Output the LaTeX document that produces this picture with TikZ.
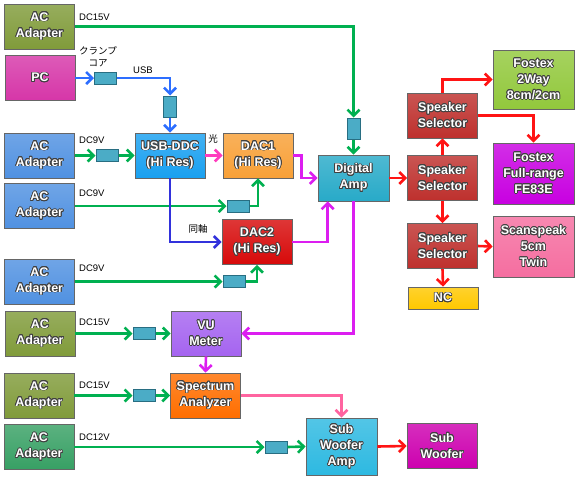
\documentclass[tikz,border=0pt]{standalone}
\usepackage{fontspec}
\setmainfont{Liberation Sans}
\newfontfamily\jpfont{Noto Sans CJK JP}
\usepackage[copies]{contour}
\usetikzlibrary{arrows.meta,positioning,calc}
\usepackage{xcolor}

\definecolor{acolive}{RGB}{128,155,58}
\definecolor{acblue}{RGB}{80,145,225}
\definecolor{acsea}{RGB}{55,160,100}
\definecolor{pcmag}{RGB}{214,54,168}
\definecolor{ddcblue}{RGB}{25,160,240}
\definecolor{dacorange}{RGB}{248,160,55}
\definecolor{dacred}{RGB}{215,10,10}
\definecolor{ampteal}{RGB}{40,170,200}
\definecolor{selred}{RGB}{190,48,45}
\definecolor{fosgreen}{RGB}{146,200,60}
\definecolor{fospurple}{RGB}{200,0,225}
\definecolor{scanpink}{RGB}{245,110,160}
\definecolor{ncyellow}{RGB}{255,200,0}
\definecolor{vupurple}{RGB}{165,100,240}
\definecolor{specorange}{RGB}{255,110,0}
\definecolor{swacyan}{RGB}{45,185,225}
\definecolor{swmag}{RGB}{205,0,175}
\definecolor{corefill}{RGB}{75,172,198}
\definecolor{coreedge}{RGB}{40,110,130}
\definecolor{wgreen}{RGB}{0,176,80}
\definecolor{wblue}{RGB}{45,110,255}
\definecolor{windigo}{RGB}{50,50,220}
\definecolor{wmag}{RGB}{220,30,240}
\definecolor{wpink}{RGB}{255,60,190}
\definecolor{wrose}{RGB}{255,100,160}
\definecolor{wred}{RGB}{255,20,20}

\contourlength{0.75pt}
\newcommand{\wt}[1]{\contour{black!75}{#1}}

\begin{document}
\begin{tikzpicture}[
    x=1pt, y=-1pt,
    blk/.style={draw=black!60, line width=0.7pt, minimum width=70pt, minimum height=45pt,
      inner sep=1pt, align=center, text=white,
      font=\fontsize{12.5}{16}\selectfont\bfseries},
    fillc/.style={top color=#1!82!white, bottom color=#1},
    core/.style={draw=coreedge, fill=corefill, line width=1pt,
      minimum width=22pt, minimum height=12pt, inner sep=0pt},
    vcore/.style={core, minimum width=13pt, minimum height=21pt},
    lbl/.style={anchor=west, inner sep=0pt, font=\fontsize{9.5}{11}\selectfont},
    jp/.style={inner sep=0pt, align=center, font=\jpfont\fontsize{9.5}{12}\selectfont},
    wire/.style={line width=2.6pt, -{Straight Barb[length=6pt,width=12pt]}},
    pwr/.style={wire, wgreen},
    sig/.style={wire, #1}
  ]
    \useasboundingbox (0,0) rectangle (580,482);
    % power adapters
    \node[blk, fillc=acolive] (ac1) at (39.5,26.5) {\wt{AC}\\\wt{Adapter}};
    \node[blk, fillc=pcmag] (pc) at (40,78) {\wt{PC}};
    \node[blk, fillc=acblue] (ac2) at (39.5,155.5) {\wt{AC}\\\wt{Adapter}};
    \node[blk, fillc=acblue] (ac3) at (39.5,206) {\wt{AC}\\\wt{Adapter}};
    \node[blk, fillc=acblue] (ac4) at (39.5,281.5) {\wt{AC}\\\wt{Adapter}};
    \node[blk, fillc=acolive] (ac5) at (40,333.5) {\wt{AC}\\\wt{Adapter}};
    \node[blk, fillc=acolive] (ac6) at (39,395.5) {\wt{AC}\\\wt{Adapter}};
    \node[blk, fillc=acsea] (ac7) at (39,447) {\wt{AC}\\\wt{Adapter}};
    % source chain
    \node[blk, fillc=ddcblue] (ddc) at (170,155.5) {\wt{USB-DDC}\\\wt{(Hi Res)}};
    \node[blk, fillc=dacorange] (dac1) at (258,155.5) {\wt{DAC1}\\\wt{(Hi Res)}};
    \node[blk, fillc=dacred] (dac2) at (257,242) {\wt{DAC2}\\\wt{(Hi Res)}};
    \node[blk, fillc=ampteal, minimum width=71pt, minimum height=46pt] (amp) at (353.5,178) {\wt{Digital}\\\wt{Amp}};
    % speakers
    \node[blk, fillc=selred] (ss1) at (442.5,115.5) {\wt{Speaker}\\\wt{Selector}};
    \node[blk, fillc=selred] (ss2) at (442.5,178) {\wt{Speaker}\\\wt{Selector}};
    \node[blk, fillc=selred] (ss3) at (442.5,246) {\wt{Speaker}\\\wt{Selector}};
    \node[blk, fillc=ncyellow, minimum height=22pt] (nc) at (443,298) {\wt{NC}};
    \node[blk, fillc=fosgreen, minimum width=81pt, minimum height=59pt] (fos2) at (533.5,79.5) {\wt{Fostex}\\\wt{2Way}\\\wt{8cm/2cm}};
    \node[blk, fillc=fospurple, minimum width=81pt, minimum height=61pt] (fosfr) at (533.5,173.5) {\wt{Fostex}\\\wt{Full-range}\\\wt{FE83E}};
    \node[blk, fillc=scanpink, minimum width=81pt, minimum height=61pt] (scan) at (533.5,246.5) {\wt{Scanspeak}\\\wt{5cm}\\\wt{Twin}};
    % meters and sub
    \node[blk, fillc=vupurple] (vu) at (206,333.5) {\wt{VU}\\\wt{Meter}};
    \node[blk, fillc=specorange] (spec) at (205.5,395.5) {\wt{Spectrum}\\\wt{Analyzer}};
    \node[blk, fillc=swacyan, minimum width=71pt, minimum height=57pt] (swa) at (341.5,446.5) {\wt{Sub}\\\wt{Woofer}\\\wt{Amp}};
    \node[blk, fillc=swmag] (sw) at (442,446) {\wt{Sub}\\\wt{Woofer}};
    % clamp cores
    \node[core] (cpc) at (105.5,78) {};
    \node[vcore] (cusb) at (170,106.5) {};
    \node[core] (cddc) at (107,155.5) {};
    \node[core] (cdac1) at (238,206) {};
    \node[core] (cdac2) at (234,281.5) {};
    \node[vcore] (camp) at (353.5,128.5) {};
    \node[core] (cvu) at (144,333.5) {};
    \node[core] (cspec) at (144,395.5) {};
    \node[core] (cswa) at (276,447) {};
    % labels
    \node[lbl] (l1) at (79,17) {DC15V};
    \node[jp] (lclamp) at (98,57) {クランプ\\コア};
    \node[lbl] (lusb) at (133,70) {USB};
    \node[lbl] (l2) at (79,140) {DC9V};
    \node[lbl] (l3) at (79,193) {DC9V};
    \node[lbl] (l4) at (79,268) {DC9V};
    \node[lbl] (l5) at (79,322) {DC15V};
    \node[lbl] (l6) at (79,385) {DC15V};
    \node[lbl] (l7) at (79,437) {DC12V};
    \node[jp] (lopt) at (213,139) {光};
    \node[jp] (lcoax) at (198,229) {同軸};
    % power wiring
    \draw[pwr] (ac1.east) -| (camp.north);
    \draw[pwr] (camp.south) -- (amp.north);
    \draw[pwr] (ac2.east) -- (cddc.west);
    \draw[pwr] (cddc.east) -- (ddc.west);
    \draw[pwr] (ac3.east) -- (cdac1.west);
    \draw[pwr] (cdac1.east) -| (dac1.south);
    \draw[pwr] (ac4.east) -- (cdac2.west);
    \draw[pwr] (cdac2.east) -| (dac2.south);
    \draw[pwr] (ac5.east) -- (cvu.west);
    \draw[pwr] (cvu.east) -- (vu.west);
    \draw[pwr] (ac6.east) -- (cspec.west);
    \draw[pwr] (cspec.east) -- (spec.west);
    \draw[pwr] (ac7.east) -- (cswa.west);
    \draw[pwr] (cswa.east) -- (swa.west);
    % signal wiring
    \draw[sig=wblue] (pc.east) -- (cpc.west);
    \draw[sig=wblue] (cpc.east) -| (cusb.north);
    \draw[sig=wblue] (cusb.south) -- (ddc.north);
    \draw[sig=wpink] (ddc.east) -- (dac1.west);
    \draw[sig=windigo] (ddc.south) |- (dac2.west);
    \draw[sig=wmag] (dac1.east) -- ++(8,0) |- (amp.west);
    \draw[sig=wmag] (dac2.east) -| ([xshift=10pt]amp.south west);
    \draw[sig=wmag] (amp.south) |- (vu.east);
    \draw[sig=wmag] (vu.south) -- (spec.north);
    \draw[sig=wrose] (spec.east) -| (swa.north);
    \draw[sig=wred] (amp.east) -- (ss2.west);
    \draw[sig=wred] (ss2.north) -- (ss1.south);
    \draw[sig=wred] (ss2.south) -- (ss3.north);
    \draw[sig=wred] (ss3.south) -- (nc.north);
    \draw[sig=wred] (ss3.east) -- (scan.west);
    \draw[sig=wred] (ss1.north) |- (fos2.west);
    \draw[sig=wred] (ss1.east) -| (fosfr.north);
    \draw[sig=wred] (swa.east) -- (sw.west);
  \end{tikzpicture}
\end{document}
